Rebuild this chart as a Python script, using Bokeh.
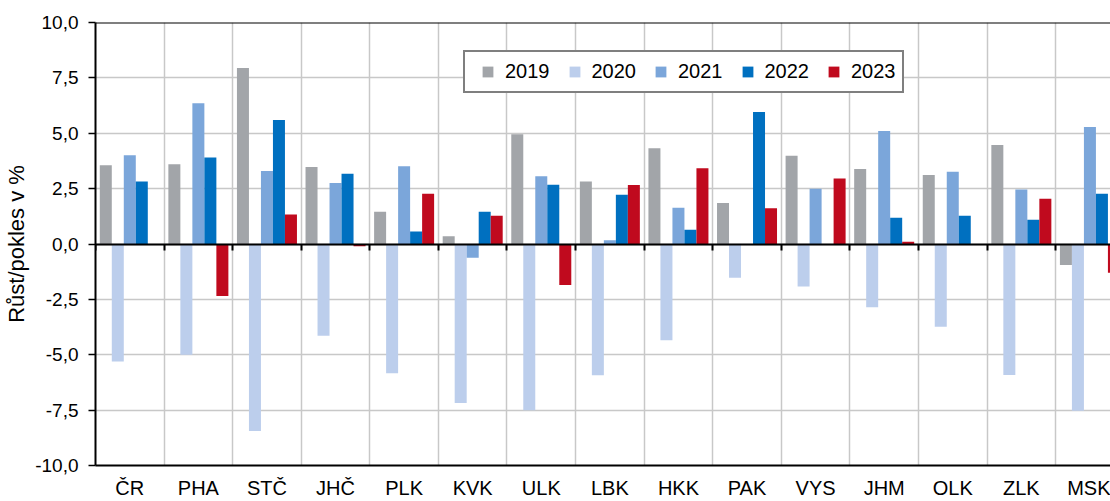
from bokeh.plotting import figure
from bokeh.models import (Range1d, FixedTicker, CustomJSTickFormatter, LinearAxis, Span,
                          ColumnDataSource)
from bokeh.embed import file_html
from bokeh.resources import INLINE
import numpy as np

categories = ["ČR", "PHA", "STČ", "JHČ", "PLK", "KVK", "ULK", "LBK", "HKK", "PAK",
              "VYS", "JHM", "OLK", "ZLK", "MSK"]
years = ["2019", "2020", "2021", "2022", "2023"]
v2019 = [3.55, 3.60, 7.95, 3.48, 1.46, 0.35, 4.95, 2.82, 4.32, 1.85, 3.98, 3.39, 3.11, 4.47, -0.95]
v2020 = [-5.31, -5.00, -8.44, -4.14, -5.83, -7.18, -7.50, -5.92, -4.35, -1.52, -1.92, -2.85, -3.74, -5.91, -7.53]
v2021 = [4.01, 6.35, 3.30, 2.75, 3.51, -0.62, 3.06, 0.17, 1.64, 0.00, 2.49, 5.10, 3.26, 2.46, 5.28]
v2022 = [2.82, 3.90, 5.60, 3.17, 0.56, 1.46, 2.67, 2.22, 0.64, 5.96, 0.00, 1.18, 1.28, 1.09, 2.27]
v2023 = [-0.05, -2.35, 1.33, -0.10, 2.27, 1.28, -1.85, 2.66, 3.42, 1.61, 2.96, 0.10, 0.00, 2.04, -1.30]
colors = ["#A2A5A9", "#BCCEEC", "#7BA6DA", "#0070C0", "#C00A1E"]
y_ticks = [-10, -7.5, -5, -2.5, 0, 2.5, 5, 7.5, 10]

series = [v2019, v2020, v2021, v2022, v2023]
FONT = "Liberation Sans"

p = figure(width=1110, height=501, output_backend="svg", toolbar_location=None,
           x_range=Range1d(0, 14.8), y_range=Range1d(-10, 10),
           min_border_left=95, min_border_right=0, min_border_top=22, min_border_bottom=34,
           background_fill_color="white", border_fill_color="white")
p.outline_line_color = None

bar_w = 0.175
centers = np.arange(len(categories)) + 0.5
for i, (yr, vals, col) in enumerate(zip(years, series, colors)):
    off = (i - 2) * bar_w
    src = ColumnDataSource(dict(x=centers + off, top=vals))
    p.vbar(x="x", top="top", bottom=0, width=bar_w, source=src,
           fill_color=col, line_color=None)

# legend keys (square markers, no visible data point)
for yr, col in zip(years, colors):
    p.scatter(x=np.array([np.nan]), y=np.array([np.nan]), marker="square",
              fill_color=col, line_color=None, legend_label=yr)

# grids
p.xgrid.ticker = FixedTicker(ticks=list(range(1, len(categories))))
p.xgrid.grid_line_color = "#c8c8c8"
p.xgrid.grid_line_width = 1.5
p.ygrid.grid_line_color = "#c8c8c8"
p.ygrid.grid_line_width = 1.5

# y axis
p.yaxis.ticker = FixedTicker(ticks=y_ticks)
p.yaxis.formatter = CustomJSTickFormatter(code="return tick.toFixed(1).replace('.', ',')")
p.yaxis.axis_label = "Růst/pokles v %"
p.yaxis.axis_label_text_font = FONT
p.yaxis.axis_label_text_font_size = "22px"
p.yaxis.axis_label_text_font_style = "normal"
p.yaxis.axis_label_text_color = "black"
p.yaxis.axis_label_standoff = 3
p.yaxis.major_label_text_font = FONT
p.yaxis.major_label_text_font_size = "19px"
p.yaxis.major_label_text_color = "black"
p.yaxis.major_label_standoff = 10
p.yaxis.axis_line_color = "black"
p.yaxis.axis_line_width = 2
p.yaxis.major_tick_line_color = "black"
p.yaxis.major_tick_line_width = 1.5
p.yaxis.major_tick_out = 7
p.yaxis.major_tick_in = 0
p.yaxis.minor_tick_line_color = None

# x axis (bottom, category labels only)
p.xaxis.ticker = FixedTicker(ticks=list(centers))
p.xaxis.formatter = CustomJSTickFormatter(args=dict(labels=categories),
                                          code="return labels[Math.floor(tick)] || ''")
p.xaxis.major_label_text_font = FONT
p.xaxis.major_label_text_font_size = "20px"
p.xaxis.major_label_text_color = "black"
p.xaxis.major_label_standoff = 11
p.xaxis.major_tick_line_color = None
p.xaxis.major_tick_out = 0
p.xaxis.minor_tick_line_color = None
p.xaxis.axis_line_color = "black"
p.xaxis.axis_line_width = 2

# zero line axis with downward ticks at category boundaries
zero_axis = LinearAxis(fixed_location=0, ticker=FixedTicker(ticks=list(range(0, len(categories) + 1))),
                       axis_line_color="black", axis_line_width=2,
                       major_tick_line_color="black", major_tick_line_width=2,
                       major_tick_out=0, major_tick_in=-6,
                       minor_tick_out=0, minor_tick_in=0, minor_tick_line_color=None,
                       major_label_standoff=0,
                       major_label_text_alpha=0, major_label_text_font_size="0px")
p.add_layout(zero_axis, "below")

# top border
p.add_layout(Span(location=10, dimension="width", line_color="black", line_width=2))

# legend
lg = p.legend[0]
lg.orientation = "horizontal"
lg.location = (368, 372)
lg.margin = 0
lg.padding = 6
lg.spacing = 8
lg.glyph_width = 33
lg.glyph_height = 27
lg.label_standoff = 1
lg.label_text_font = FONT
lg.label_text_font_size = "20px"
lg.label_text_color = "black"
lg.border_line_color = "black"
lg.border_line_width = 2
lg.background_fill_color = "white"
lg.background_fill_alpha = 1.0

open("out.html", "w").write(file_html(p, INLINE))
